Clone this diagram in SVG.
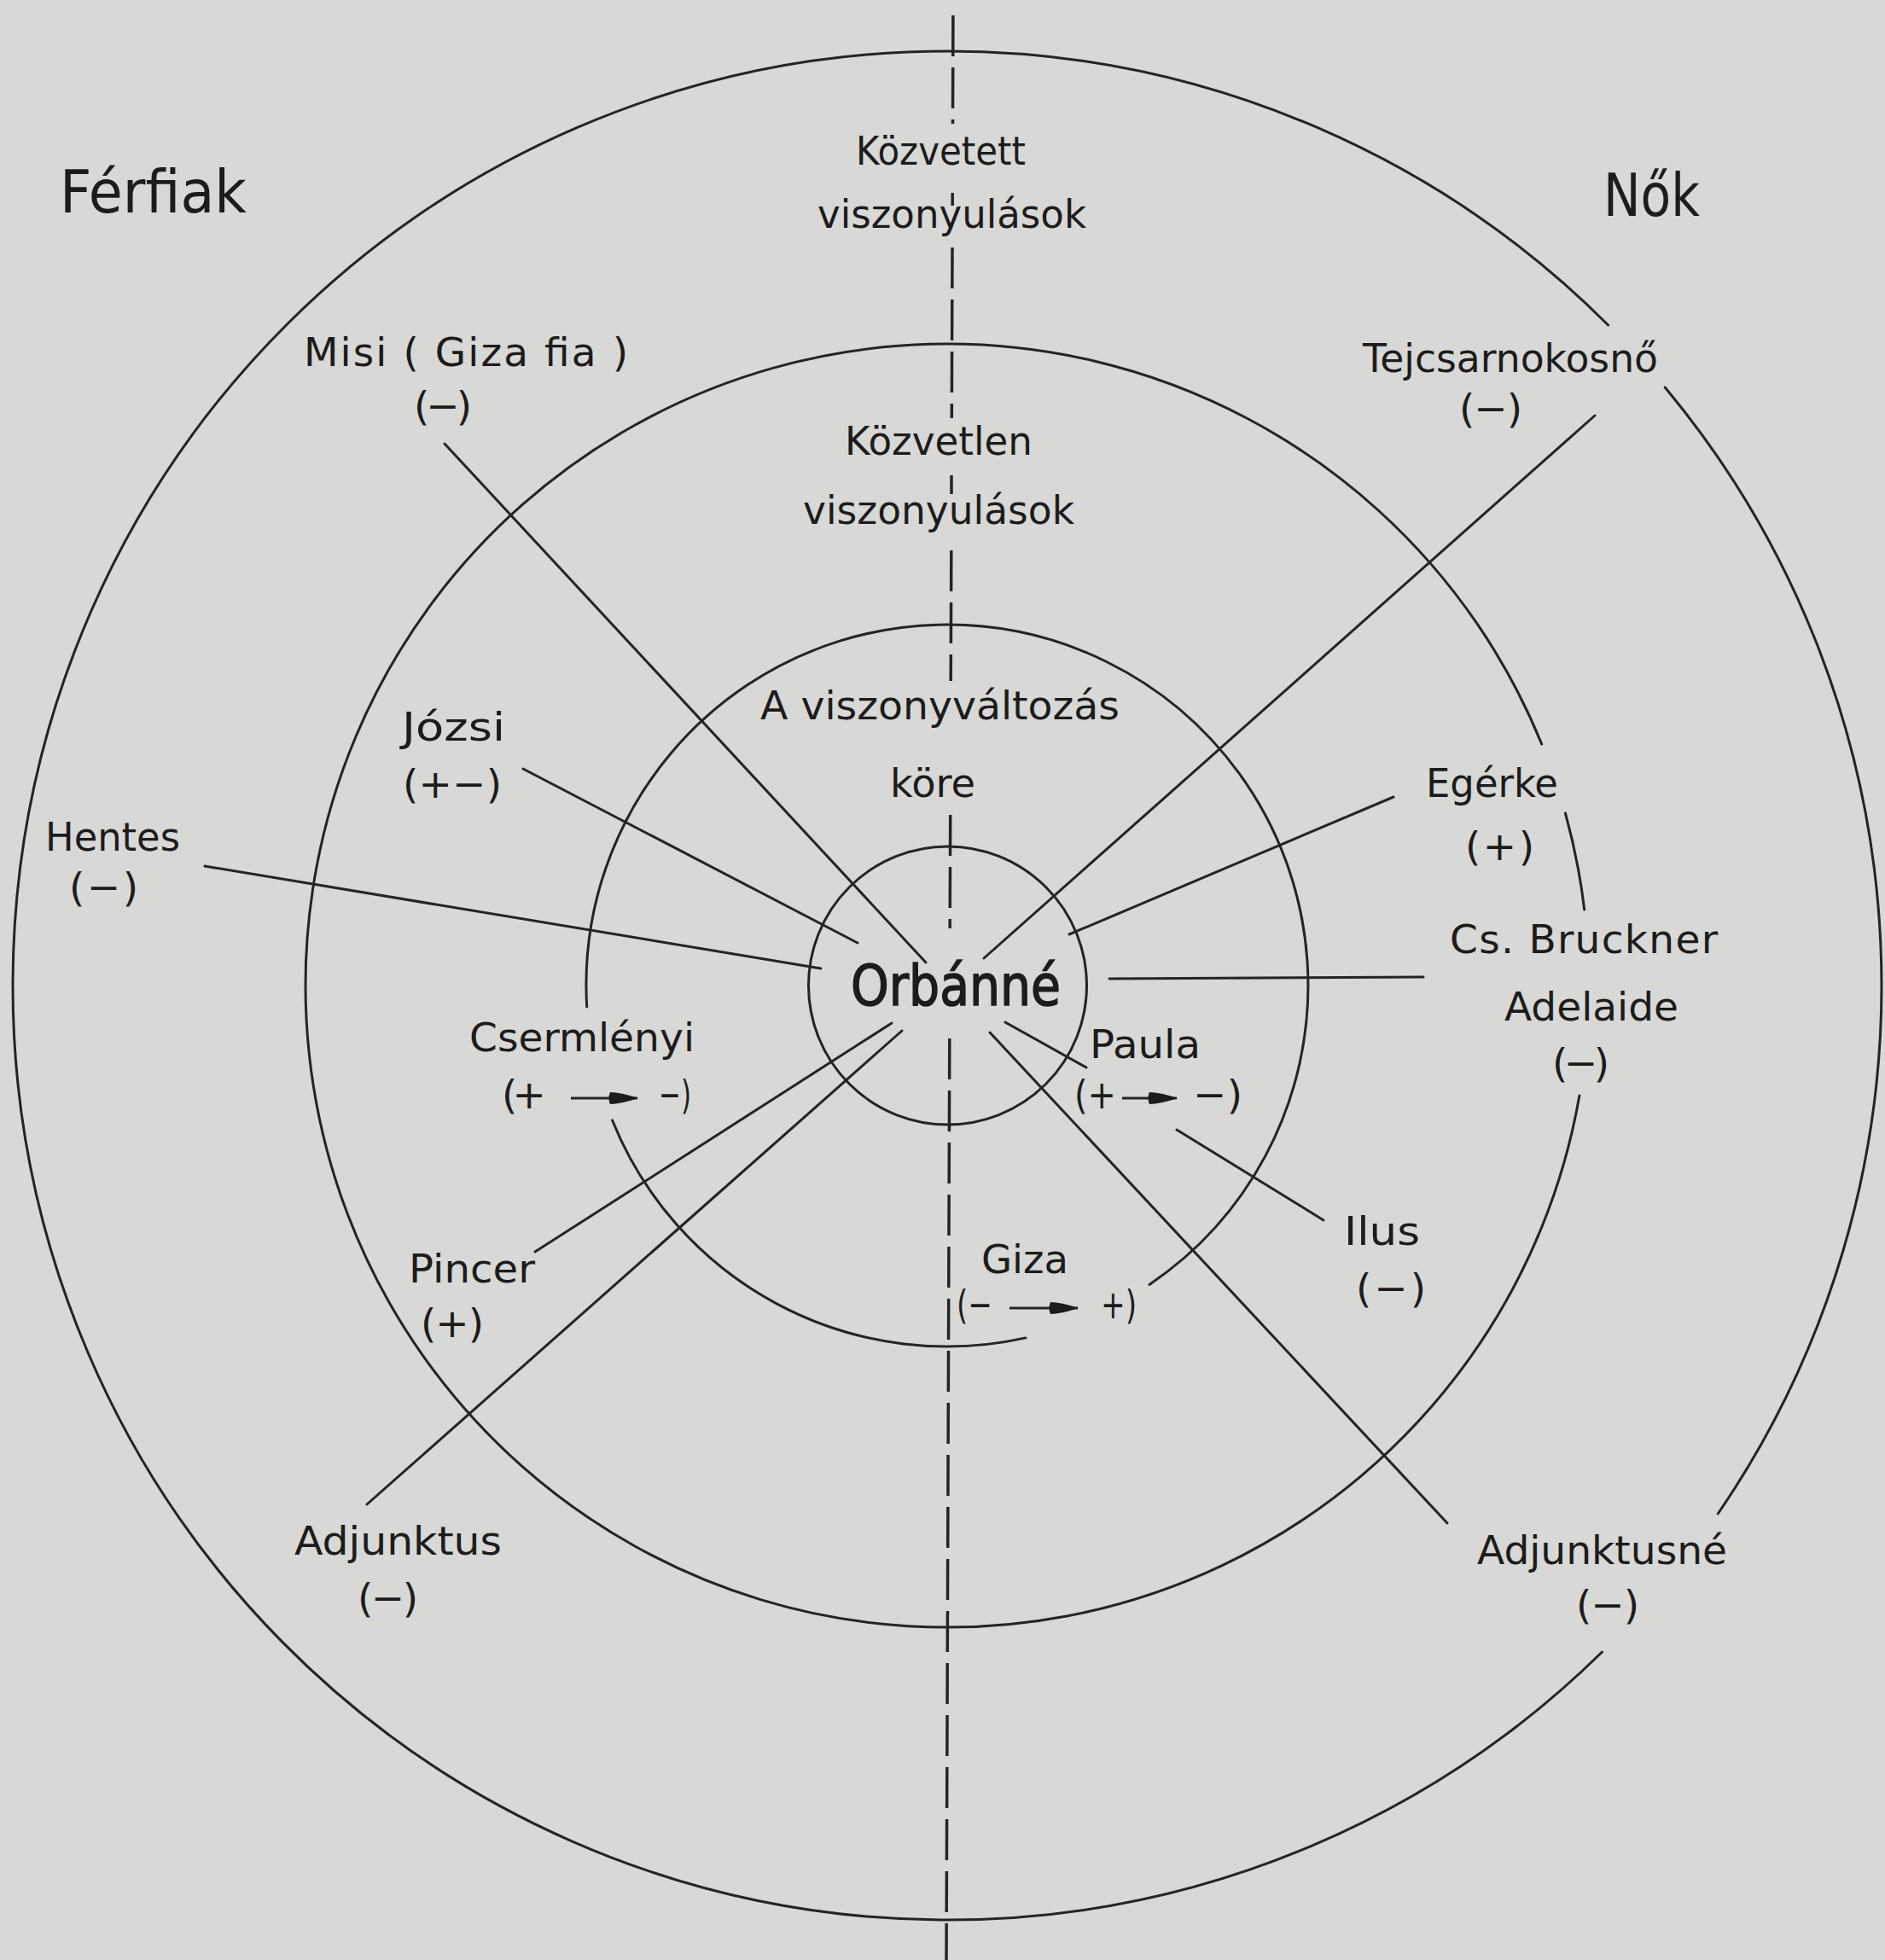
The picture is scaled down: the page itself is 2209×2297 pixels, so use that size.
<svg xmlns="http://www.w3.org/2000/svg" width="2209" height="2297" viewBox="0 0 2209 2297">
<style>
.t{font-family:"DejaVu Sans","Liberation Sans",sans-serif;font-size:47px;fill:#1c1c1c}
.big{font-size:70px}
.ctr{font-size:66px;stroke:#1c1c1c;stroke-width:1.6}
.ln{stroke:#242424;stroke-width:3;fill:none;stroke-linecap:round}
.ax{stroke:#242424;stroke-width:3.5;fill:none;stroke-dasharray:48 13}
.ar{stroke:#242424;stroke-width:3;fill:none;marker-end:url(#ah)}
</style>
<defs>
<marker id="ah" viewBox="0 0 36 18" refX="35" refY="9" markerWidth="36" markerHeight="18" markerUnits="userSpaceOnUse" orient="auto">
<path d="M3,2 Q15,2 36,9 Q15,16 3,16 Q0,9 3,2 Z" fill="#1c1c1c"/>
</marker>
</defs>
<rect x="0" y="0" width="2209" height="2297" fill="#d8d8d6"/>

<g id="rings">
<path class="ln" d="M1951.2,454 A1095 1095 0 0 1 2013.2,1774"/>
<path class="ln" d="M1877.5,1936 A1095 1095 0 1 1 1884.6,381"/>
<path class="ln" d="M1850.9,1284 A752 752 0 1 1 1806.7,872"/>
<path class="ln" d="M1834.4,953 A752 752 0 0 1 1856.7,1066"/>
<path class="ln" d="M1202,1567.9 A423 423 0 0 1 717.6,1313"/>
<path class="ln" d="M687.7,1180 A423 423 0 1 1 1347,1505.4"/>
<circle class="ln" cx="1110.5" cy="1155" r="163"/>
</g>

<g id="axis">
<line class="ax" x1="1116.9" y1="18" x2="1116.5" y2="145"/>
<line class="ax" x1="1116.2" y1="226" x2="1116.2" y2="241"/>
<line class="ax" x1="1116" y1="290" x2="1115.3" y2="490"/>
<line class="ax" x1="1115" y1="557" x2="1115" y2="579"/>
<line class="ax" x1="1114.8" y1="645" x2="1114.2" y2="798"/>
<line class="ax" x1="1113.7" y1="955" x2="1113.2" y2="1088"/>
<line class="ax" x1="1112.8" y1="1217" x2="1109" y2="2297"/>
</g>

<g id="connectors">
<line class="ln" x1="521" y1="520" x2="1085" y2="1128"/>
<line class="ln" x1="613" y1="901" x2="1005" y2="1105"/>
<line class="ln" x1="240" y1="1015" x2="962" y2="1135"/>
<line class="ln" x1="1869" y1="487" x2="1153" y2="1123"/>
<line class="ln" x1="1633" y1="934" x2="1253" y2="1095"/>
<line class="ln" x1="1300" y1="1147" x2="1668" y2="1145"/>
<line class="ln" x1="1178" y1="1198" x2="1273" y2="1251"/>
<line class="ln" x1="1379" y1="1324" x2="1551" y2="1430"/>
<line class="ln" x1="1160" y1="1210" x2="1696" y2="1785"/>
<line class="ln" x1="1045" y1="1199" x2="627" y2="1467"/>
<line class="ln" x1="1057" y1="1208" x2="430" y2="1763"/>
</g>

<g id="ferfiak"><text class="t big" x="70" y="249" textLength="219" lengthAdjust="spacingAndGlyphs">Férfiak</text></g>
<g id="nok"><text class="t big" x="1879" y="253" textLength="113" lengthAdjust="spacingAndGlyphs">Nők</text></g>

<g id="kozvetett">
<text class="t" x="1003" y="193" textLength="199" lengthAdjust="spacingAndGlyphs">Közvetett</text>
<text class="t" x="958" y="267" textLength="315" lengthAdjust="spacingAndGlyphs">viszonyulások</text>
</g>
<g id="kozvetlen">
<text class="t" x="990" y="533" textLength="220" lengthAdjust="spacingAndGlyphs">Közvetlen</text>
<text class="t" x="941" y="614" textLength="318" lengthAdjust="spacingAndGlyphs">viszonyulások</text>
</g>
<g id="viszonyvaltozas">
<text class="t" x="891" y="843" textLength="421" lengthAdjust="spacingAndGlyphs">A viszonyváltozás</text>
<text class="t" x="1043" y="934" textLength="100" lengthAdjust="spacingAndGlyphs">köre</text>
</g>
<g id="orbanne"><text class="t ctr" x="997" y="1178" textLength="246" lengthAdjust="spacingAndGlyphs">Orbánné</text></g>

<g id="misi">
<text class="t" x="356" y="429" textLength="380" lengthAdjust="spacing">Misi ( Giza fia )</text>
<text class="t" x="485" y="492" textLength="68" lengthAdjust="spacing">(−)</text>
</g>
<g id="jozsi">
<text class="t" x="471" y="868" textLength="121" lengthAdjust="spacingAndGlyphs">Józsi</text>
<text class="t" x="472" y="935" textLength="116" lengthAdjust="spacing">(+−)</text>
</g>
<g id="hentes">
<text class="t" x="53" y="997" textLength="158" lengthAdjust="spacingAndGlyphs">Hentes</text>
<text class="t" x="81" y="1056" textLength="81" lengthAdjust="spacing">(−)</text>
</g>
<g id="tejcsarnokosno">
<text class="t" x="1597" y="436" textLength="346" lengthAdjust="spacingAndGlyphs">Tejcsarnokosnő</text>
<text class="t" x="1710" y="495" textLength="74" lengthAdjust="spacing">(−)</text>
</g>
<g id="egerke">
<text class="t" x="1671" y="934" textLength="155" lengthAdjust="spacingAndGlyphs">Egérke</text>
<text class="t" x="1717" y="1008" textLength="81" lengthAdjust="spacing">(+)</text>
</g>
<g id="bruckner">
<text class="t" x="1699" y="1117" textLength="314" lengthAdjust="spacing">Cs. Bruckner</text>
</g>
<g id="adelaide">
<text class="t" x="1763" y="1196" textLength="204" lengthAdjust="spacingAndGlyphs">Adelaide</text>
<text class="t" x="1819" y="1262" textLength="67" lengthAdjust="spacing">(−)</text>
</g>
<g id="paula">
<text class="t" x="1277" y="1240" textLength="130" lengthAdjust="spacingAndGlyphs">Paula</text>
<text class="t" x="1259" y="1299" textLength="49" lengthAdjust="spacingAndGlyphs">(+</text>
<line class="ar" x1="1315" y1="1287" x2="1379" y2="1287"/>
<text class="t" x="1398" y="1299" textLength="58" lengthAdjust="spacing">− )</text>
</g>
<g id="ilus">
<text class="t" x="1575" y="1459" textLength="89" lengthAdjust="spacingAndGlyphs">Ilus</text>
<text class="t" x="1589" y="1526" textLength="82" lengthAdjust="spacing">(−)</text>
</g>
<g id="giza">
<text class="t" x="1150" y="1492" textLength="102" lengthAdjust="spacingAndGlyphs">Giza</text>
<text class="t" x="1121" y="1545" textLength="42" lengthAdjust="spacingAndGlyphs">(−</text>
<line class="ar" x1="1183" y1="1533" x2="1263" y2="1533"/>
<text class="t" x="1290" y="1545" textLength="42" lengthAdjust="spacingAndGlyphs">+)</text>
</g>
<g id="adjunktusne">
<text class="t" x="1731" y="1833" textLength="293" lengthAdjust="spacingAndGlyphs">Adjunktusné</text>
<text class="t" x="1847" y="1897" textLength="74" lengthAdjust="spacing">(−)</text>
</g>
<g id="csermlenyi">
<text class="t" x="550" y="1232" textLength="264" lengthAdjust="spacingAndGlyphs">Csermlényi</text>
<text class="t" x="588" y="1299" textLength="52" lengthAdjust="spacing">( +</text>
<line class="ar" x1="669" y1="1287" x2="747" y2="1287"/>
<text class="t" x="772" y="1299" textLength="38" lengthAdjust="spacingAndGlyphs">−)</text>
</g>
<g id="pincer">
<text class="t" x="479" y="1503" textLength="148" lengthAdjust="spacingAndGlyphs">Pincer</text>
<text class="t" x="493" y="1567" textLength="74" lengthAdjust="spacing">(+)</text>
</g>
<g id="adjunktus">
<text class="t" x="345" y="1822" textLength="243" lengthAdjust="spacingAndGlyphs">Adjunktus</text>
<text class="t" x="419" y="1889" textLength="71" lengthAdjust="spacing">(−)</text>
</g>
</svg>
